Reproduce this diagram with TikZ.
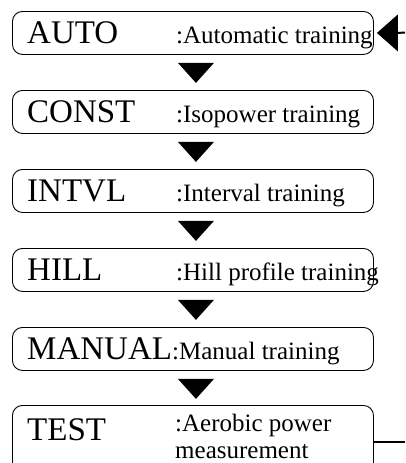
\documentclass[tikz,border=0pt]{standalone}
\usepackage{fontspec}
\setmainfont{Liberation Serif}
\usetikzlibrary{calc}
\tikzset{
  modebox/.style={draw, line width=0.9pt, rounded corners=10pt, minimum width=361pt, minimum height=43pt, inner sep=0pt, anchor=north west},
  bigtxt/.style={font=\fontsize{33}{36}\selectfont, inner sep=0pt, anchor=base west},
  smalltxt/.style={font=\fontsize{25}{27}\selectfont, inner sep=0pt, anchor=base west, align=left},
  downtri/.style={fill=black},
  thickline/.style={line width=2pt}
}
\begin{document}
\begin{tikzpicture}[x=1pt,y=-1pt]
\useasboundingbox (0,0) rectangle (405,463);
\clip (0,0) rectangle (405,463);
\node[modebox] (auto) at (12,11) {};
\node[modebox] (const) at (12,90) {};
\node[modebox] (intvl) at (12,169) {};
\node[modebox] (hill) at (12,248) {};
\node[modebox] (manual) at (12,327) {};
\node[modebox, minimum height=90pt] (test) at (12,405) {};
\node[bigtxt] (t1) at (27,43) {AUTO};
\node[smalltxt] (d1) at (176,43) {:Automatic training};
\node[bigtxt] (t2) at (27,122) {CONST};
\node[smalltxt] (d2) at (176,122) {:Isopower training};
\node[bigtxt] (t3) at (27,201) {INTVL};
\node[smalltxt] (d3) at (176,201) {:Interval training};
\node[bigtxt] (t4) at (27,280) {HILL};
\node[smalltxt] (d4) at (176,280) {:Hill profile training};
\node[bigtxt] (t5) at (27,359) {MANUAL};
\node[smalltxt] (d5) at (172,359) {:Manual training};
\node[bigtxt] (t6) at (27,440) {TEST};
\node[smalltxt] (d6a) at (175,431) {:Aerobic power};
\node[smalltxt] (d6b) at (175,458) {measurement};
\foreach \a/\b in {auto/const,const/intvl,intvl/hill,hill/manual,manual/test}{
  \fill[downtri] ($(\a.south)+(-15,8)$) -- ($(\a.south)+(21,8)$) -- ($(\a.south)+(3,28)$) -- cycle;
}
\coordinate (inA) at (405,32.5);
\coordinate (outB) at (405,442);
\draw[thickline] (inA) -- ($(auto.east)+(24,0)$);
\fill ($(auto.east)+(3,0)$) -- ($(auto.east)+(24,-18.5)$) -- ($(auto.east)+(24,18.5)$) -- cycle;
\draw[thickline] (outB -| test.east) -- (outB);
\end{tikzpicture}
\end{document}
